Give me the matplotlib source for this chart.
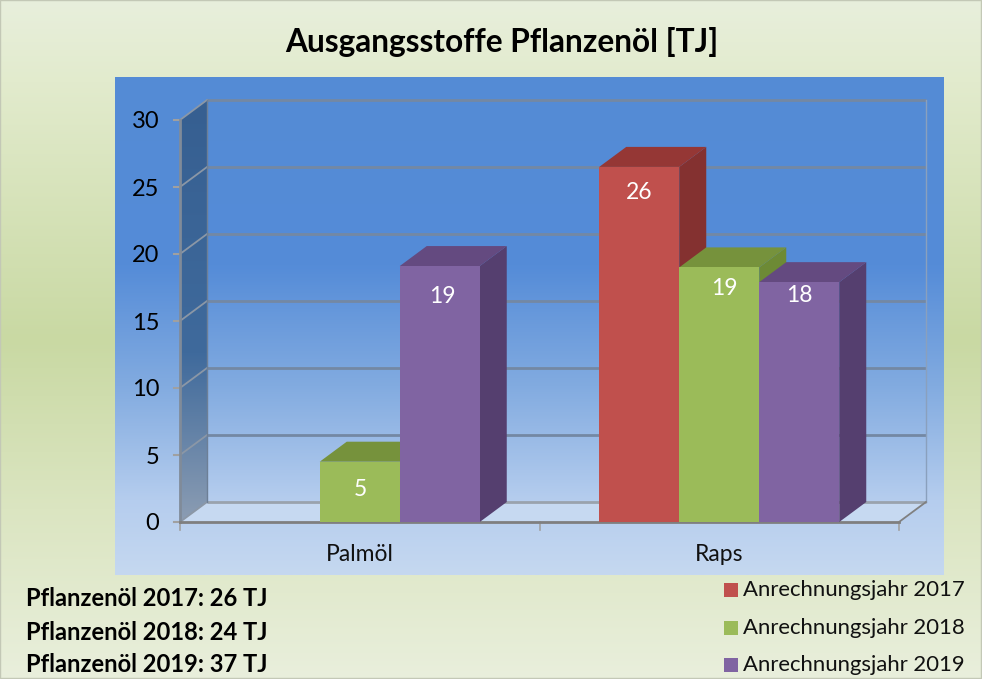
import numpy as np
import matplotlib
matplotlib.use("Agg")
import matplotlib.pyplot as plt
from matplotlib.colors import LinearSegmentedColormap
from matplotlib.patches import Polygon, Rectangle

plt.rcParams['font.family'] = ['Lato', 'DejaVu Sans']

# Data
categories = ["Palmöl", "Raps"]
series_names = ["Anrechnungsjahr 2017", "Anrechnungsjahr 2018", "Anrechnungsjahr 2019"]
heights_2017 = [0, 26.5]
heights_2018 = [4.5, 19.0]
heights_2019 = [19.1, 17.9]
labels_2017 = ["", "26"]
labels_2018 = ["5", "19"]
labels_2019 = ["19", "18"]
y_ticks = [0, 5, 10, 15, 20, 25, 30]
summary_lines = ["Pflanzenöl 2017: 26 TJ", "Pflanzenöl 2018: 24 TJ", "Pflanzenöl 2019: 37 TJ"]
title = "Ausgangsstoffe Pflanzenöl [TJ]"

front_colors = ["#c0504d", "#9bbb59", "#8064a2"]
top_colors = ["#953735", "#76923c", "#644a80"]
side_colors = ["#843130", "#6d8a35", "#553f6f"]

W, H = 982, 679
fig = plt.figure(figsize=(W / 100, H / 100), dpi=100)

# Background axes in pixel coordinates
bg = fig.add_axes([0, 0, 1, 1])
bg.set_xlim(0, W)
bg.set_ylim(H, 0)
bg.axis("off")

green = LinearSegmentedColormap.from_list("g", [(0, "#e8efdc"), (0.12, "#e2ebcd"), (0.5, "#c9d9a3"),
                                                (0.75, "#dbe5c1"), (1, "#e9efdc")])
bg.imshow(np.linspace(0, 1, 256).reshape(-1, 1), cmap=green, extent=[0, W, H, 0], aspect="auto", zorder=0)

blue = LinearSegmentedColormap.from_list("b", [(0, "#548bd5"), (0.38, "#558cd8"), (0.62, "#82abe0"),
                                               (0.85, "#b5cdee"), (1, "#c5d8f0")])
bg.imshow(np.linspace(0, 1, 256).reshape(-1, 1), cmap=blue, extent=[115, 944, 575, 77], aspect="auto", zorder=1)
bg.set_xlim(0, W)
bg.set_ylim(H, 0)
bg.add_patch(Rectangle((0, 0), W - 1, H - 1, fill=False, ec="#c3c8b6", lw=1, zorder=2))

# Depth is drawn as an offset from the front plane
dx = 27 / (899 - 180) * 2
dy = 20 / (522 - 120) * 30
x0, x1 = -0.5, 1.5
y_top = 30 + dy

# Axes reach up to the top of the back wall so the side wall image is not cut
ax = fig.add_axes([180 / W, 1 - 522 / H, (899 - 180) / W, (522 - 100) / H])
ax.patch.set_alpha(0)
for s in ax.spines.values():
    s.set_visible(False)

grid_col = "#7488a3"

# Side wall with a gradient
wall = LinearSegmentedColormap.from_list("w", [(0, "#365f91"), (0.6, "#3f6a9c"), (1, "#8c9db3")])
wall_poly = Polygon([(x0, 0), (x0 + dx, dy), (x0 + dx, y_top), (x0, 30)], closed=True, fc="none", ec="none",
                    transform=ax.transData, clip_on=False)
ax.add_patch(wall_poly)
im = ax.imshow(np.linspace(0, 1, 256).reshape(-1, 1), cmap=wall, extent=[x0, x0 + dx, 0, y_top],
               aspect="auto", zorder=1)
im.set_clip_path(wall_poly)
ax.set_xlim(x0, x1)
ax.set_ylim(0, y_top)

# Floor
ax.add_patch(Polygon([(x0, 0), (x1, 0), (x1 + dx, dy), (x0 + dx, dy)], closed=True, fc="#c6d9f1", ec="none",
                     zorder=1.5, clip_on=False))

# Grid on the back and side walls
for t in y_ticks:
    col = "#9aa3ad" if t == 0 else grid_col
    ax.plot([x0 + dx, x1 + dx], [t + dy, t + dy], color=col, lw=2, zorder=2, clip_on=False, solid_capstyle="butt")
    ax.plot([x0, x0 + dx], [t, t + dy], color="#8b97a6", lw=1.3, zorder=2, clip_on=False)
    ax.plot([x0 - 0.018, x0], [t, t], color="#a0a0a0", lw=1.5, zorder=2, clip_on=False)
ax.plot([x0, x0], [0, 30], color="#808b99", lw=2, zorder=2.2, clip_on=False)
ax.plot([x0 + dx, x0 + dx], [0 + dy, y_top], color="#6d7f96", lw=1, zorder=2.2, clip_on=False)
ax.plot([x1 + dx, x1 + dx], [dy, y_top], color="#8aa0bd", lw=1, zorder=2, clip_on=False)
ax.plot([x1, x1 + dx], [0, dy], color="#808080", lw=1.3, zorder=2, clip_on=False)
ax.plot([x0, x1], [0, 0], color="#7f7f7f", lw=2, zorder=2.2, clip_on=False)
for xt in [x0, 0.5, x1]:
    ax.plot([xt, xt], [0, -0.6], color="#a0a0a0", lw=1.2, zorder=2, clip_on=False)

# Bars, front through ax.bar, then top and side faces
bar_w = 80 / (899 - 180) * 2
all_heights = [heights_2017, heights_2018, heights_2019]
all_labels = [labels_2017, labels_2018, labels_2019]
label_down = [[0, 1.9], [2.1, 1.6], [2.3, 1.0]]
label_right = [[0, 0], [0.003, 0.014], [0.008, 0]]
for i in range(3):
    offset = (i - 1) * bar_w
    for c in range(2):
        h = all_heights[i][c]
        if h == 0:
            continue
        x = c + offset
        left, right = x - bar_w / 2, x + bar_w / 2
        z = 3 + i * 0.1 + c
        ax.add_patch(Polygon([(right, 0), (right + dx, dy), (right + dx, h + dy), (right, h)], closed=True,
                             fc=side_colors[i], ec="none", zorder=z, clip_on=False))
        ax.add_patch(Polygon([(left, h), (left + dx, h + dy), (right + dx, h + dy), (right, h)], closed=True,
                             fc=top_colors[i], ec="none", zorder=z, clip_on=False))
        ax.bar(x, h, width=bar_w, color=front_colors[i], zorder=z + 0.01, clip_on=False)
        ax.text(x + label_right[i][c], h - label_down[i][c], all_labels[i][c], color="white", fontsize=16.5,
                ha="center", va="center", zorder=8)

ax.set_xlim(x0, x1)
ax.set_ylim(0, y_top)
ax.set_xticks([0, 1])
ax.set_xticklabels(categories, fontsize=16.5, color="#111111")
ax.set_yticks(y_ticks)
ax.set_yticklabels([str(t) for t in y_ticks], fontsize=17, color="black")
ax.tick_params(axis="x", length=0, pad=16)
ax.tick_params(axis="y", length=0, pad=15)

# Title and texts around the chart
bg.text(502, 42, title, fontsize=22.8, fontweight="bold", ha="center", va="center", color="black", zorder=5)
for line, y in zip(summary_lines, [598, 632, 665]):
    bg.text(26, y, line, fontsize=17.1, fontweight="bold", ha="left", va="center", color="black", zorder=5)

# Legend
for name, col, y in zip(series_names, front_colors, [590, 628, 665]):
    bg.add_patch(Rectangle((724, y - 7), 14, 14, fc=col, ec="none", zorder=5))
    bg.text(743, y, name, fontsize=15.9, ha="left", va="center", color="#111111", zorder=5)

fig.savefig("out.png", dpi=100)
